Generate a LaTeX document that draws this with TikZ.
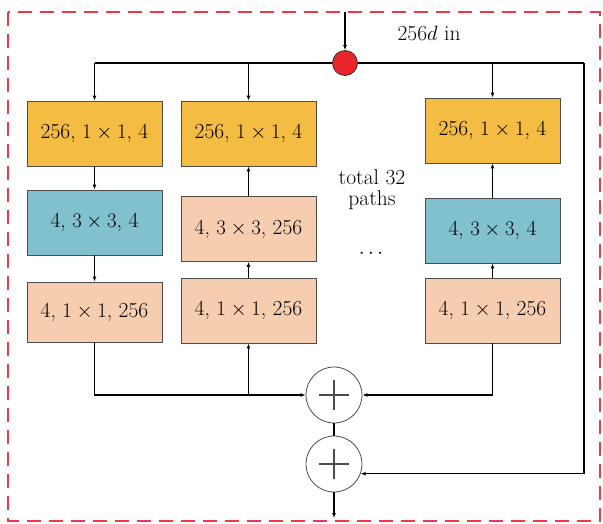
\documentclass[tikz,border=0pt]{standalone}
\usetikzlibrary{arrows.meta}
\definecolor{convorange}{HTML}{F4BC42}
\definecolor{convblue}{HTML}{80C1CD}
\definecolor{convpeach}{HTML}{F7CDB0}
\definecolor{splitred}{HTML}{E8252B}
\definecolor{frame}{HTML}{EE3A44}
\begin{document}
\begin{tikzpicture}[x=1pt,y=-1pt,
  blk/.style={draw=black!70, line width=0.8pt, minimum width=135pt, minimum height=65pt,
              inner sep=0pt, font=\fontsize{21.5}{25}\selectfont},
  orange/.style={blk, fill=convorange},
  blue/.style={blk, fill=convblue},
  peach/.style={blk, fill=convpeach},
  wire/.style={line width=1.3pt},
  flow/.style={wire, -{Latex[length=5pt,width=4pt]}},
  sum/.style={circle, draw=black!70, line width=0.8pt, fill=white, minimum size=56pt,
              inner sep=0pt,
              path picture={\draw[line width=1.3pt]
                 ([xshift=-15pt]path picture bounding box.center) -- ([xshift=15pt]path picture bounding box.center)
                 ([yshift=-15pt]path picture bounding box.center) -- ([yshift=15pt]path picture bounding box.center);}},
  lbl/.style={font=\fontsize{21.5}{25}\selectfont, align=center}]
\useasboundingbox (0,0) rectangle (603,523);

% dashed frame of the block
\draw[frame, line width=1.6pt, dash pattern=on 14pt off 8pt] (8,12) rectangle (600,521);

% three of the 32 paths
\node[orange] (a1) at (94.5,133.5) {256, $1\times1$, 4};
\node[blue]   (a2) at (94.5,222.5) {4, $3\times3$, 4};
\node[peach, minimum height=60pt] (a3) at (94.5,312) {4, $1\times1$, 256};

\node[orange] (b1) at (248.5,133.5) {256, $1\times1$, 4};
\node[peach]  (b2) at (248.5,229) {4, $3\times3$, 256};
\node[peach]  (b3) at (248.5,310.5) {4, $1\times1$, 256};

\node[orange] (c1) at (492.5,130.5) {256, $1\times1$, 4};
\node[blue]   (c2) at (492.5,230.5) {4, $3\times3$, 4};
\node[peach]  (c3) at (492.5,310.5) {4, $1\times1$, 256};

\node[lbl] (paths) at (372,190) {total 32\\[-4pt]paths};
\node[lbl] (dots) at (371,254) {$\cdots$};

% distribution line
\coordinate (tl) at (94.5,63);
\coordinate (tr) at (584,63);
\draw[wire] (tl) -- (tr);

% input split point
\node[circle, draw=black!80, line width=0.8pt, fill=splitred, minimum size=25pt, inner sep=0pt] (split) at (345,63) {};
\coordinate (in) at (345,12);
\node[lbl, anchor=west] (inlbl) at (394,33) {256$d$ in};

% aggregation and shortcut sums
\node[sum] (sumA) at (334,395) {};
\node[sum] (sumB) at (334,464) {};
\coordinate (out) at (334,518);

\draw[flow] (in) -- (split);
\draw[flow] (tl) -- (a1);
\draw[flow] (b1.north |- tl) -- (b1);
\draw[flow] (c1.north |- tl) -- (c1);

% inside the paths
\draw[flow] (a1) -- (a2);
\draw[flow] (a2) -- (a3);
\draw[flow] (b3) -- (b2);
\draw[flow] (b2) -- (b1);
\draw[flow] (c3) -- (c2);
\draw[flow] (c2) -- (c1);

% merging
\draw[flow] (a3.south) |- (sumA.west);
\draw[flow] (b3.south |- sumA.west) -- (b3.south);
\draw[flow] (c3.south) |- (sumA.east);
\draw[wire] (sumA) -- (sumB);
\draw[flow] (tr) |- (sumB.-20);
\draw[flow] (sumB) -- (out);
\end{tikzpicture}
\end{document}
